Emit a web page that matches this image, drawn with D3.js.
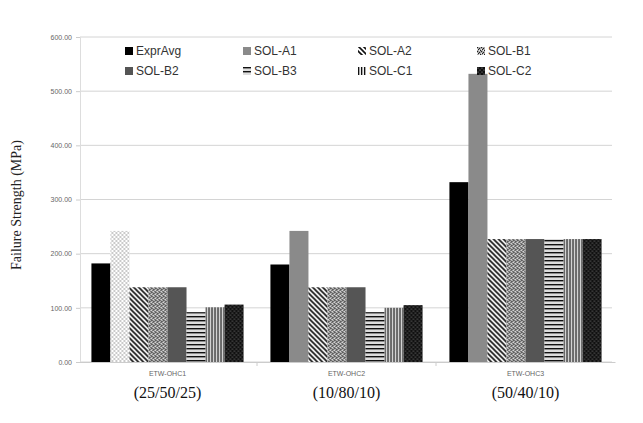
<!DOCTYPE html>
<meta charset="utf-8">
<style>
body {
    margin: 0px;
    background: white;
    overflow: hidden;
}
.tick text { fill: #666; }
</style>
<body>
<script src="https://d3js.org/d3.v7.min.js"></script>
<script>
var width = 643,
    height = 423;

// chart data
var categories = ["ETW-OHC1", "ETW-OHC2", "ETW-OHC3"];
var compositions = ["(25/50/25)", "(10/80/10)", "(50/40/10)"];
var seriesNames = ["ExprAvg", "SOL-A1", "SOL-A2", "SOL-B1", "SOL-B2", "SOL-B3", "SOL-C1", "SOL-C2"];
var exprAvg = [182, 180, 332];
var solA1 = [242, 242, 532];
var solA2 = [138, 138, 227];
var solB1 = [138, 138, 227];
var solB2 = [138, 138, 227];
var solB3 = [92, 92, 227];
var solC1 = [101, 100, 227];
var solC2 = [106, 105, 227];
var yTicks = [0, 100, 200, 300, 400, 500, 600];

var seriesValues = [exprAvg, solA1, solA2, solB1, solB2, solB3, solC1, solC2];

var svg = d3.select("body").append("svg")
    .attr("width", width)
    .attr("height", height);

// fill patterns
var defs = svg.append("defs");

function pattern(id, w, h, bg) {
  var p = defs.append("pattern")
      .attr("id", id)
      .attr("patternUnits", "userSpaceOnUse")
      .attr("width", w)
      .attr("height", h);
  p.append("rect").attr("width", w).attr("height", h).attr("fill", bg);
  return p;
}

var pDots = pattern("dotsLight", 4, 4, "#fff");
pDots.append("circle").attr("cx", 1).attr("cy", 1).attr("r", 0.8).attr("fill", "#888");
pDots.append("circle").attr("cx", 3).attr("cy", 3).attr("r", 0.8).attr("fill", "#888");

var pDiag = pattern("diag", 5, 5, "#fff");
pDiag.append("path").attr("d", "M-1,-1L6,6M-1,4L1,6M4,-1L6,1")
    .attr("stroke", "#111").attr("stroke-width", 1.6);

// speckled grey for SOL-B1
var pCheck = pattern("check", 4, 4, "#aaa");
[[0, 0], [2, 1], [1, 2], [3, 3]].forEach(function(p) {
  pCheck.append("rect").attr("x", p[0]).attr("y", p[1]).attr("width", 1).attr("height", 1).attr("fill", "#222");
});
[[2, 3], [0, 2]].forEach(function(p) {
  pCheck.append("rect").attr("x", p[0]).attr("y", p[1]).attr("width", 1).attr("height", 1).attr("fill", "#eee");
});

var pHoriz = pattern("horiz", 4, 4, "#ddd");
pHoriz.append("rect").attr("y", 0).attr("width", 4).attr("height", 1.4).attr("fill", "#111");

var pVert = pattern("vert", 3, 4, "#eee");
pVert.append("rect").attr("x", 0).attr("width", 1.3).attr("height", 4).attr("fill", "#111");

var pDark = pattern("darkDots", 4, 4, "#111");
pDark.append("circle").attr("cx", 1).attr("cy", 1).attr("r", 0.6).attr("fill", "#999");
pDark.append("circle").attr("cx", 3).attr("cy", 3).attr("r", 0.6).attr("fill", "#999");

var seriesFills = ["#000", "#8a8a8a", "url(#diag)", "url(#check)", "#555", "url(#horiz)", "url(#vert)", "url(#darkDots)"];

function fillFor(s, c) {
  // first group's SOL-A1 bar is drawn dotted in the original
  if (s === 1 && c === 0) return "url(#dotsLight)";
  return seriesFills[s];
}

// scales
var x0 = d3.scaleBand()
    .domain(categories)
    .range([78, 615])
    .paddingInner(0.15)
    .paddingOuter(0.075);

var x1 = d3.scaleBand()
    .domain(d3.range(seriesNames.length))
    .range([0, x0.bandwidth()]);

var y = d3.scaleLinear()
    .domain([0, 600])
    .range([362, 37]);

// gridlines
svg.append("g")
  .selectAll("line")
  .data(yTicks)
  .enter().append("line")
    .attr("x1", 80)
    .attr("x2", 612)
    .attr("y1", function(d) { return y(d); })
    .attr("y2", function(d) { return y(d); })
    .attr("stroke", "#d4d4d4")
    .attr("stroke-width", 1);

// y axis
var yAxis = svg.append("g")
    .attr("transform", "translate(80,0)")
    .call(d3.axisLeft(y).tickValues(yTicks).tickFormat(d3.format(".2f")).tickSize(4).tickPadding(4));
yAxis.select(".domain").attr("stroke", "#ddd");
yAxis.selectAll(".tick line").attr("stroke", "#ccc");
yAxis.selectAll("text")
    .attr("font-family", "Liberation Sans, sans-serif")
    .attr("font-size", 7);

// bars
var groups = svg.append("g")
  .selectAll("g")
  .data(categories)
  .enter().append("g")
    .attr("transform", function(d) { return "translate(" + x0(d) + ",0)"; });

groups.selectAll("rect")
  .data(function(d, c) {
    return seriesValues.map(function(vals, s) { return { s: s, c: c, v: vals[c] }; });
  })
  .enter().append("rect")
    .attr("x", function(d) { return x1(d.s); })
    .attr("width", x1.bandwidth())
    .attr("y", function(d) { return y(d.v); })
    .attr("height", function(d) { return y(0) - y(d.v); })
    .attr("fill", function(d) { return fillFor(d.s, d.c); });

// x axis
var xAxis = svg.append("g")
    .attr("transform", "translate(0,362)")
    .call(d3.axisBottom(x0).tickSize(0).tickPadding(9));
xAxis.select(".domain").attr("stroke", "#ccc");
xAxis.selectAll("text")
    .attr("font-family", "Liberation Sans, sans-serif")
    .attr("font-size", 7);

svg.append("g")
  .selectAll("line")
  .data(categories.slice(1))
  .enter().append("line")
    .attr("x1", function(d) { return x0(d) - x0.step() * x0.paddingInner() / 2; })
    .attr("x2", function(d) { return x0(d) - x0.step() * x0.paddingInner() / 2; })
    .attr("y1", 362)
    .attr("y2", 366)
    .attr("stroke", "#ccc");

// composition labels
svg.append("g")
  .selectAll("text")
  .data(categories)
  .enter().append("text")
    .attr("x", function(d) { return x0(d) + x0.bandwidth() / 2; })
    .attr("y", 398)
    .attr("text-anchor", "middle")
    .attr("font-family", "Liberation Serif, serif")
    .attr("font-size", 16)
    .attr("fill", "#111")
    .text(function(d, i) { return compositions[i]; });

// y label
svg.append("text")
    .attr("transform", "translate(21,205) rotate(-90)")
    .attr("text-anchor", "middle")
    .attr("font-family", "Liberation Serif, serif")
    .attr("font-size", 14)
    .attr("fill", "#222")
    .text("Failure Strength (MPa)");

// legend
var legendCols = [125, 243, 358, 477];
var legend = svg.append("g")
  .selectAll("g")
  .data(seriesNames)
  .enter().append("g")
    .attr("transform", function(d, i) {
      return "translate(" + legendCols[i % 4] + "," + (i < 4 ? 51 : 71) + ")";
    });

legend.append("rect")
    .attr("x", 0)
    .attr("y", -4)
    .attr("width", 8)
    .attr("height", 8)
    .attr("fill", function(d, i) { return seriesFills[i]; });

legend.append("text")
    .attr("x", 11)
    .attr("y", 4)
    .attr("font-family", "Liberation Sans, sans-serif")
    .attr("font-size", 12)
    .attr("fill", "#333")
    .text(function(d) { return d; });
</script>
</body>
</html>
